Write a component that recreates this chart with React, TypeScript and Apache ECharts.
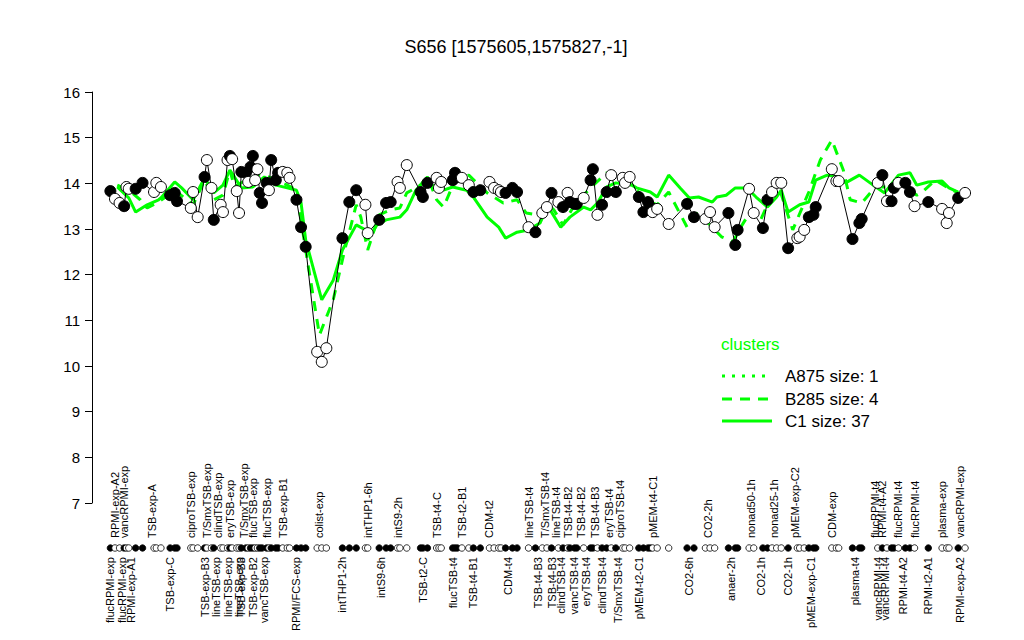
import React, { useEffect, useRef } from "react";
import * as echarts from "echarts";

// ---- data ----
const sampleIndex = [
  1, 3, 5, 7, 8, 9, 12, 15, 20, 21,
  23, 27, 29, 30, 36, 37, 39, 42, 43, 45,
  46, 49, 50, 52, 53, 54, 56, 57, 58, 60,
  61, 62, 63, 64, 65, 66, 67, 69, 70, 71,
  73, 74, 76, 78, 79, 82, 84, 86, 91, 93,
  95, 102, 105, 108, 112, 113, 118, 121, 123, 126,
  127, 130, 136, 137, 139, 143, 144, 145, 150, 151,
  152, 154, 157, 159, 162, 166, 168, 170, 171, 173,
  176, 178, 183, 186, 189, 191, 193, 196, 198, 200,
  201, 203, 204, 207, 210, 211, 213, 215, 217, 219,
  221, 224, 225, 227, 231, 233, 235, 236, 237, 239,
  244, 252, 255, 260, 262, 264, 270, 273, 274, 279,
  281, 285, 287, 289, 291, 293, 296, 300, 301, 303,
  305, 307, 308, 315, 317, 318, 324, 327, 328, 335,
  337, 339, 341, 342, 344, 347, 349, 351, 357, 363,
  365, 366, 370, 373,
];
const sampleValues = [
  13.83, 13.66, 13.57, 13.5, 13.92, 13.88, 13.88, 14.01, 13.81, 14.01,
  13.92, 13.74, 13.79, 13.61, 13.46, 13.81, 13.26, 14.14, 14.51, 13.9,
  13.2, 13.53, 13.37, 14.51, 14.6, 14.53, 13.83, 13.35, 14.25, 14.23,
  14.03, 14.36, 14.6, 14.07, 14.31, 13.79, 13.57, 14.01, 13.85, 14.51,
  14.07, 14.23, 14.25, 14.23, 14.12, 13.64, 13.04, 12.61, 10.31, 10.09,
  10.39, 12.8, 13.59, 13.85, 13.53, 12.91, 13.2, 13.57, 13.59, 14.03,
  13.9, 14.4, 13.81, 13.7, 14.01, 14.12, 13.9, 14.03, 14.07, 14.23,
  14.14, 14.12, 13.96, 13.81, 13.85, 14.03, 13.9, 13.85, 13.81, 13.79,
  13.9, 13.81, 13.04, 12.93, 13.35, 13.48, 13.79, 13.59, 13.48, 13.79,
  13.59, 13.55, 13.55, 13.68, 14.07, 14.31, 13.31, 13.53, 13.81, 14.18,
  13.81, 14.12, 14.01, 14.14, 13.7, 13.37, 13.59, 13.48, 13.37, 13.44,
  13.11, 13.55, 13.26, 13.22, 13.37, 13.04, 13.35, 12.65, 12.98, 13.88,
  13.35, 13.02, 13.64, 13.81, 14.01, 14.01, 12.58, 12.8, 12.83, 12.98,
  13.26, 13.31, 13.48, 14.31, 14.05, 14.05, 12.78, 13.13, 13.22, 14.01,
  14.18, 13.61, 13.61, 13.9, 14.01, 14.01, 13.81, 13.5, 13.59, 13.44,
  13.13, 13.35, 13.68, 13.79,
];
// 1 = filled (black) group, 0 = open group
const sampleFilled = [
  1, 0, 0, 1, 0, 0, 1, 1, 0, 0,
  0, 1, 1, 1, 0, 0, 0, 1, 0, 0,
  1, 0, 0, 0, 1, 0, 0, 0, 1, 1,
  0, 1, 1, 0, 0, 1, 1, 1, 0, 1,
  1, 1, 0, 0, 0, 1, 1, 1, 0, 0,
  0, 1, 1, 1, 0, 0, 1, 1, 1, 0,
  0, 0, 1, 1, 1, 0, 0, 0, 1, 1,
  1, 0, 0, 1, 1, 0, 0, 0, 0, 1,
  1, 1, 0, 1, 0, 0, 1, 0, 1, 0,
  1, 1, 1, 0, 1, 1, 0, 1, 1, 0,
  1, 0, 0, 0, 1, 1, 1, 1, 0, 0,
  0, 1, 1, 0, 0, 0, 1, 1, 1, 0,
  0, 1, 1, 0, 0, 0, 1, 0, 0, 0,
  1, 1, 1, 0, 0, 0, 1, 1, 1, 0,
  1, 0, 1, 1, 0, 1, 1, 0, 1, 0,
  0, 0, 1, 0,
];

const c1Index = [
  4, 9, 12, 17, 22, 23, 29, 32, 37, 42,
  46, 50, 53, 55, 58, 63, 65, 68, 73, 78,
  82, 84, 86, 93, 98, 102, 108, 112, 113, 117,
  121, 127, 130, 134, 139, 141, 146, 150, 156, 159,
  165, 170, 173, 178, 183, 188, 191, 193, 197, 201,
  207, 210, 213, 217, 221, 228, 230, 236, 239, 244,
  249, 253, 257, 263, 265, 269, 273, 278, 282, 287,
  291, 293, 296, 301, 305, 308, 313, 318, 321, 327,
  333, 338, 340, 344, 349, 352, 357, 363, 366, 370,
];
const c1Values = [
  13.92, 13.68, 13.37, 13.53, 13.64, 13.68, 14.03, 13.9, 13.64, 14.12,
  13.79, 13.96, 14.29, 14.14, 13.9, 13.92, 14.01, 14.14, 13.96, 13.9,
  13.85, 13.57, 12.76, 11.45, 11.88, 12.54, 13.09, 12.98, 12.76, 13.09,
  13.2, 13.26, 13.42, 13.85, 14.14, 13.96, 13.85, 13.92, 13.85, 13.7,
  13.26, 13.04, 12.8, 12.93, 12.98, 13.13, 13.46, 13.37, 13.04, 13.26,
  13.48, 13.42, 13.57, 13.92, 14.01, 13.96, 13.9, 13.81, 13.7, 14.18,
  13.9, 13.68, 13.7, 13.59, 13.7, 13.74, 13.9, 13.9, 13.7, 13.48,
  13.7, 13.85, 13.37, 13.53, 13.59, 14.07, 14.18, 14.14, 14.01, 14.18,
  13.96, 13.79, 13.92, 14.18, 14.23, 13.96, 14.03, 14.05, 13.9, 13.81,
];

const b285Index = [
  4, 9, 14, 17, 22, 29, 37, 42, 46, 50,
  53, 55, 60, 65, 68, 73, 78, 82, 86, 92,
  98, 103, 108, 110, 113, 118, 123, 127, 130, 136,
  139, 143, 146, 151, 157, 165, 172, 178, 182, 187,
  191, 194, 198, 203, 210, 217, 223, 228, 234, 239,
  244, 252, 256, 262, 267, 272, 276, 280, 284, 288,
  291, 298, 305, 310, 315, 320, 323, 328, 334, 340,
  346, 352, 354, 360, 365, 370,
];
const b285Values = [
  13.96, 13.85, 13.64, 13.46, 13.59, 13.85, 13.53, 14.07, 13.64, 13.74,
  14.29, 13.92, 14.07, 14.18, 14.18, 14.07, 13.96, 13.85, 12.54, 10.68,
  11.45, 12.54, 13.53, 13.26, 12.54, 13.31, 13.42, 13.46, 13.79, 13.96,
  14.14, 13.64, 13.48, 14.07, 14.18, 13.79, 13.57, 13.64, 13.35, 13.31,
  13.57, 13.42, 13.09, 13.53, 13.9, 14.23, 14.07, 13.96, 13.64, 13.53,
  13.81, 13.04, 13.35, 13.09, 12.83, 12.72, 13.09, 13.42, 13.2, 13.64,
  14.07, 12.98, 13.81, 14.51, 14.95, 14.29, 13.64, 13.57, 13.92, 13.92,
  13.96, 13.74, 13.79, 14.07, 13.92, 13.79,
];

const bottomLabelIndex = [
  1, 6, 10, 27, 42, 47, 52, 57, 58, 63, 68, 82, 102, 119, 137, 150, 159, 174,
  187, 193, 197, 203, 208, 215, 222, 231, 253, 271, 284, 296, 306, 325, 335,
  338, 346, 357, 371,
];
const bottomLabels = [
  "flucRPMI-exp", "flucRPMI-exp", "RPMI-exp-A1", "TSB-exp-C", "TSB-exp-B3",
  "lineTSB-exp", "lineTSB-exp", "lineTSB-exp", "TSB-exp-B3", "TSB-exp-B2",
  "vancTSB-exp", "RPMI/FCS-exp", "intTHP1-2h", "intS9-6h", "TSB-t2-C",
  "flucTSB-t4", "TSB-t4-B1", "CDM-t4", "TSB-t4-B3", "TSB-t4-B3",
  "clindTSB-t4", "vancTSB-t4", "eryTSB-t4", "clindTSB-t4", "T/SmxTSB-t4",
  "pMEM-t2-C1", "CO2-6h", "anaer-2h", "CO2-1h", "CO2-1h", "pMEM-exp-C1",
  "plasma-t4", "vancRPMI-t4", "vancRPMI-t4", "RPMI-t4-A2", "RPMI-t2-A1",
  "RPMI-exp-A2",
];
const topLabelIndex = [
  3, 7, 19, 36, 43, 48, 53, 59, 63, 69, 76, 92, 113, 126, 143, 154, 166, 183,
  190, 195, 200, 206, 212, 218, 223, 237, 261, 280, 290, 299, 315, 334, 337,
  344, 351, 363, 371,
];
const topLabels = [
  "RPMI-exp-A2", "vancRPMI-exp", "TSB-exp-A", "ciproTSB-exp", "T/SmxTSB-exp",
  "clindTSB-exp", "eryTSB-exp", "T/SmxTSB-exp", "flucTSB-exp", "flucTSB-exp",
  "TSB-exp-B1", "colist-exp", "intTHP1-6h", "intS9-2h", "TSB-t4-C",
  "TSB-t2-B1", "CDM-t2", "lineTSB-t4", "T/SmxTSB-t4", "lineTSB-t4",
  "TSB-t4-B2", "TSB-t4-B2", "TSB-t4-B3", "eryTSB-t4", "ciproTSB-t4",
  "pMEM-t4-C1", "CO2-2h", "nonad50-1h", "nonad25-1h", "pMEM-exp-C2",
  "CDM-exp", "flucRPMI-t4", "RPMI-t4-A2", "flucRPMI-t4", "flucRPMI-t4",
  "plasma-exp", "vancRPMI-exp",
];

const yTicks = [7, 8, 9, 10, 11, 12, 13, 14, 15, 16];
const titleText = "S656 [1575605,1575827,-1]";
const legendTitle = "clusters";
const legendItems = ["A875 size: 1", "B285 size: 4", "C1 size: 37"];

// ---- style ----
const FONT = "'Liberation Sans', Arial, Helvetica, sans-serif";
const GREEN = "#00ff00";
const X_MIN = -7;
const X_MAX = 379.5;

export default function App() {
  const ref = useRef<HTMLDivElement>(null);

  useEffect(() => {
    if (!ref.current) return;
    const chart = echarts.init(ref.current, undefined, { renderer: "svg" });

    const pts = sampleIndex.map((x, i) => [x, sampleValues[i]]);
    const scatterData = sampleIndex.map((x, i) => ({
      value: [x, sampleValues[i]],
      itemStyle: { color: sampleFilled[i] ? "#000" : "#fff" },
    }));
    const stripData = sampleIndex.map((x, i) => ({
      value: [x, 0],
      itemStyle: { color: sampleFilled[i] ? "#000" : "#fff" },
    }));
    const topMap = new Map<number, string>();
    topLabelIndex.forEach((p, i) => topMap.set(p, topLabels[i]));
    const botMap = new Map<number, string>();
    bottomLabelIndex.forEach((p, i) => botMap.set(p, bottomLabels[i]));

    const legendYs = [376, 399, 421];
    const dashes: any[] = [[3, 7], [10, 8], "solid"];

    const graphic: any[] = [
      {
        type: "text",
        x: 516,
        y: 47,
        style: {
          text: titleText,
          font: `18px ${FONT}`,
          fill: "#000",
          textAlign: "center",
          textVerticalAlign: "middle",
        },
      },
      {
        type: "text",
        x: 721,
        y: 344,
        style: {
          text: legendTitle,
          font: `17px ${FONT}`,
          fill: GREEN,
          textAlign: "left",
          textVerticalAlign: "middle",
        },
      },
    ];
    legendItems.forEach((t, i) => {
      graphic.push({
        type: "line",
        shape: { x1: 722, y1: legendYs[i], x2: 772, y2: legendYs[i] },
        style: { stroke: GREEN, lineWidth: 3, lineDash: dashes[i] === "solid" ? null : dashes[i] },
      });
      graphic.push({
        type: "text",
        x: 785,
        y: legendYs[i],
        style: {
          text: t,
          font: `17px ${FONT}`,
          fill: "#000",
          textAlign: "left",
          textVerticalAlign: "middle",
        },
      });
    });

    chart.setOption({
      animation: false,
      backgroundColor: "#fff",
      textStyle: { fontFamily: FONT },
      grid: [
        { left: 92, top: 92, width: 888, height: 411 },
        { left: 92, top: 544, width: 888, height: 8 },
      ],
      xAxis: [
        { gridIndex: 0, type: "value", min: X_MIN, max: X_MAX, show: false },
        {
          gridIndex: 1,
          type: "value",
          position: "top",
          min: X_MIN,
          max: X_MAX,
          interval: 1,
          axisLine: { show: false },
          axisTick: { show: false },
          splitLine: { show: false },
          axisLabel: {
            rotate: 90,
            fontSize: 11,
            fontFamily: FONT,
            color: "#000",
            margin: 6,
            formatter: (v: number) => topMap.get(Math.round(v)) ?? "",
          },
        },
        {
          gridIndex: 1,
          type: "value",
          position: "bottom",
          min: X_MIN,
          max: X_MAX,
          interval: 1,
          axisLine: { show: false },
          axisTick: { show: false },
          splitLine: { show: false },
          axisLabel: {
            rotate: 90,
            fontSize: 11,
            fontFamily: FONT,
            color: "#000",
            margin: 5,
            formatter: (v: number) => botMap.get(Math.round(v)) ?? "",
          },
        },
      ],
      yAxis: [
        {
          gridIndex: 0,
          type: "value",
          position: "left",
          min: yTicks[0],
          max: yTicks[yTicks.length - 1],
          interval: 1,
          axisLine: { show: true, onZero: false, lineStyle: { color: "#000", width: 1 } },
          axisTick: { show: true, length: 7, lineStyle: { color: "#000" } },
          splitLine: { show: false },
          axisLabel: { fontSize: 15, color: "#000", margin: 12, fontFamily: FONT },
        },
        { gridIndex: 1, type: "value", min: -1, max: 1, show: false },
      ],
      series: [
        {
          name: "C1 size: 37",
          type: "line",
          xAxisIndex: 0,
          yAxisIndex: 0,
          data: c1Index.map((x, i) => [x, c1Values[i]]),
          symbol: "none",
          lineStyle: { color: GREEN, width: 3 },
          z: 2,
        },
        {
          name: "B285 size: 4",
          type: "line",
          xAxisIndex: 0,
          yAxisIndex: 0,
          data: b285Index.map((x, i) => [x, b285Values[i]]),
          symbol: "none",
          lineStyle: { color: GREEN, width: 3, type: [10, 8] },
          z: 2,
        },
        {
          name: "S656",
          type: "line",
          xAxisIndex: 0,
          yAxisIndex: 0,
          data: pts,
          symbol: "none",
          lineStyle: { color: "#000", width: 1 },
          z: 3,
        },
        {
          name: "samples",
          type: "scatter",
          xAxisIndex: 0,
          yAxisIndex: 0,
          data: scatterData,
          symbol: "circle",
          symbolSize: 11,
          itemStyle: { borderColor: "#000", borderWidth: 1, opacity: 1 },
          z: 4,
        },
        {
          name: "strip",
          type: "scatter",
          xAxisIndex: 1,
          yAxisIndex: 1,
          data: stripData,
          symbol: "circle",
          symbolSize: 6.5,
          itemStyle: { borderColor: "#000", borderWidth: 0.8, opacity: 1 },
          z: 4,
        },
      ],
      graphic,
    });

    return () => chart.dispose();
  }, []);

  return (
    <div
      ref={ref}
      style={{ position: "fixed", left: 0, top: 0, width: 1024, height: 640, background: "#fff" }}
    />
  );
}
